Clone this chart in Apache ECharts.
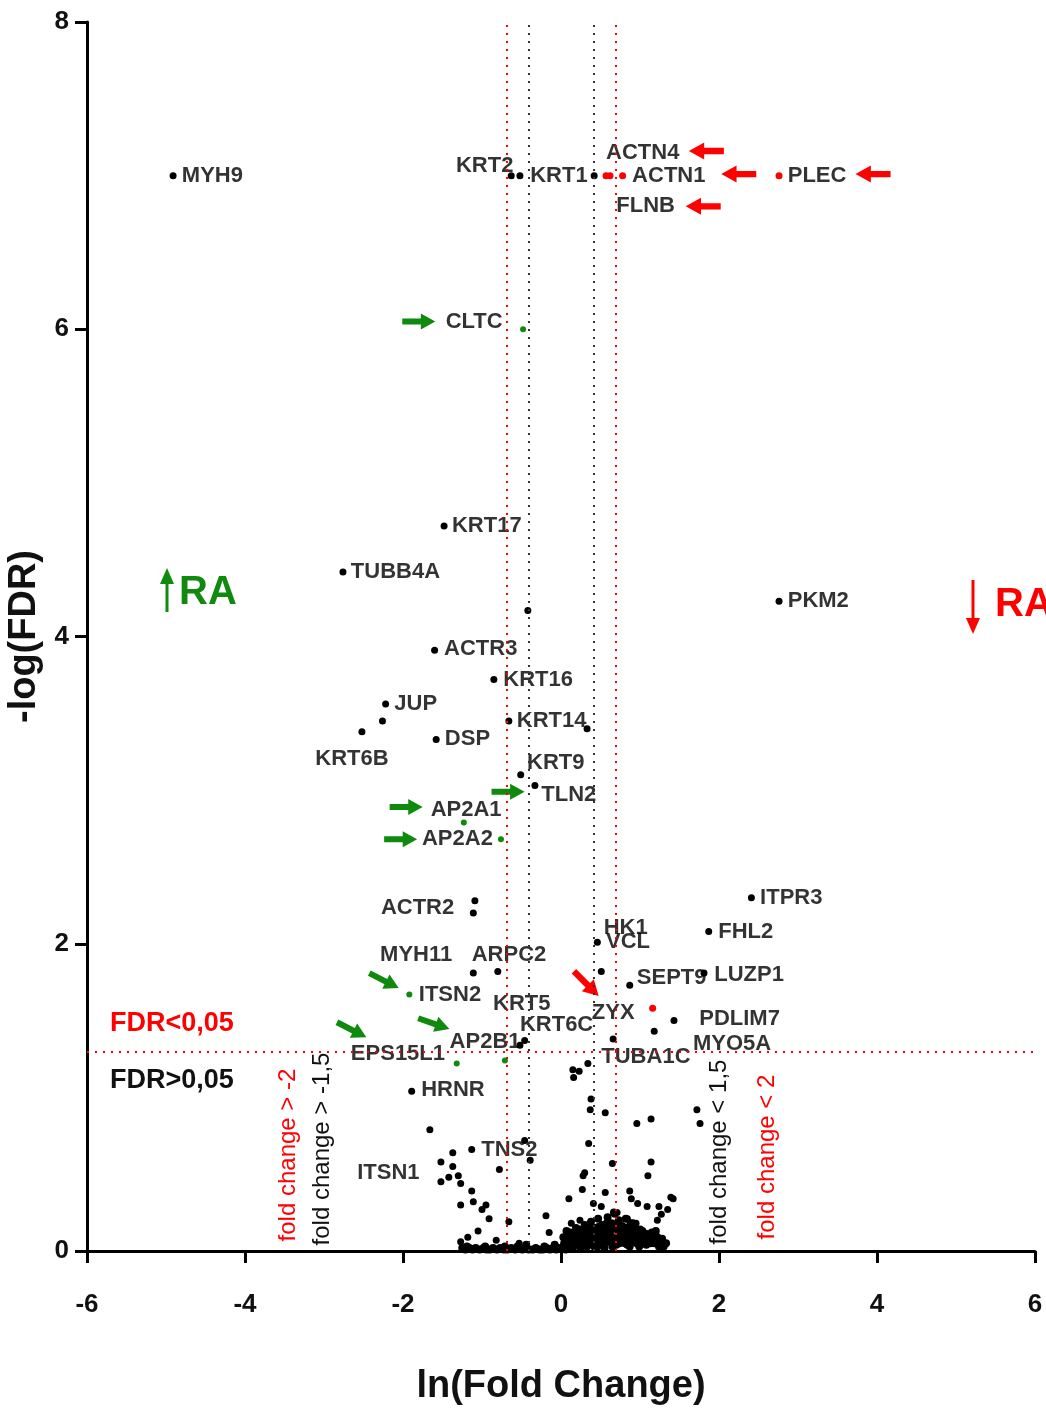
<!DOCTYPE html>
<html>
<head>
<meta charset="utf-8">
<script src="https://cdn.jsdelivr.net/npm/echarts@6/dist/echarts.min.js"></script>
<style>
  html, body { margin: 0; padding: 0; background: #fff; }
  #chart { width: 1046px; height: 1408px; }
</style>
</head>
<body>
<div id="chart"></div>
<script>
// axis ticks
const xTicks = [-6, -4, -2, 0, 2, 4, 6];
const yTicks = [0, 2, 4, 6, 8];

// thresholds: ln(1.5), ln(2), -log10(0.05)
const blackCutoffs = [-0.405, 0.405];
const redCutoffs = [-0.693, 0.693];
const fdrCutoff = 1.301;

// proteins, not highlighted
const blackPoints = [
  [-4.91, 7.00], [-0.63, 7.00], [-0.52, 7.00], [0.42, 7.00],
  [-1.48, 4.72], [-2.76, 4.42], [-0.42, 4.17], [-1.60, 3.91], [-0.85, 3.72],
  [-2.22, 3.56], [-2.26, 3.45], [-2.52, 3.38], [-1.58, 3.33], [-0.66, 3.45],
  [0.33, 3.40], [-0.51, 3.10], [-0.33, 3.03], [2.76, 4.23],
  [-1.09, 2.28], [-1.11, 2.20], [-1.11, 1.81], [-0.80, 1.82], [-0.46, 1.37], [-0.52, 1.34],
  [0.46, 2.01], [0.51, 1.82], [0.87, 1.73], [1.43, 1.50], [1.18, 1.43], [0.66, 1.38],
  [2.41, 2.30], [1.87, 2.08], [1.81, 1.81],
  [-1.89, 1.04], [-1.66, 0.79], [-1.13, 0.66], [-1.37, 0.64], [-1.52, 0.58], [-1.37, 0.55],
  [-1.42, 0.48], [-1.30, 0.49], [-1.52, 0.45], [-1.27, 0.44], [-1.13, 0.39], [-1.11, 0.32],
  [-1.27, 0.30], [-0.95, 0.30], [-1.00, 0.27], [-0.91, 0.21], [-1.05, 0.13], [-1.18, 0.09],
  [-1.27, 0.06], [-0.82, 0.07], [-0.78, 0.53], [-0.66, 0.19], [-0.46, 0.72], [-0.39, 0.59],
  [-0.53, 0.05], [-0.19, 0.23], [-0.15, 0.12], [0.10, 0.34], [0.15, 1.18], [0.23, 1.17],
  [0.16, 1.13], [0.34, 1.22], [0.38, 0.99], [0.37, 0.92], [0.56, 0.90], [0.35, 0.70],
  [0.28, 0.49], [0.30, 0.51], [0.27, 0.40], [0.65, 0.57], [0.56, 0.38], [0.41, 0.31],
  [0.51, 0.29], [0.24, 0.20], [0.68, 0.24], [0.96, 0.83], [1.14, 0.86], [1.72, 0.92],
  [1.76, 0.83], [1.14, 0.58], [1.10, 0.49], [0.87, 0.39], [0.89, 0.34], [0.97, 0.31],
  [1.09, 0.29], [1.24, 0.29], [1.39, 0.35], [1.35, 0.27], [1.27, 0.24], [1.22, 0.20],
  [1.42, 0.34], [0.13, 0.18], [0.71, 0.25], [0.84, 0.21], [0.95, 0.18], [1.04, 0.12], [0.47, 0.16]
];

// dense band near FDR = 1
const baselinePoints = [
  [-1.25, 0.02], [-1.21, 0.01], [-1.16, 0.02], [-1.12, 0.01], [-1.08, 0.02], [-1.03, 0.01],
  [-0.98, 0.02], [-0.94, 0.01], [-0.90, 0.01], [-0.86, 0.02], [-0.81, 0.01], [-0.77, 0.02],
  [-0.72, 0.01], [-0.68, 0.01], [-0.63, 0.02], [-0.58, 0.01], [-0.55, 0.03], [-0.49, 0.01],
  [-0.45, 0.02], [-0.41, 0.01], [-0.36, 0.01], [-0.32, 0.02], [-0.27, 0.01], [-0.23, 0.01],
  [-0.18, 0.02], [-0.14, 0.01], [-0.10, 0.02], [-0.06, 0.01], [-0.03, 0.02],
  [-1.19, 0.03], [-0.96, 0.03], [-0.71, 0.03], [-0.44, 0.04], [-0.21, 0.03], [-0.08, 0.04],
  [0.01, 0.02], [0.04, 0.05], [0.06, 0.01], [0.08, 0.08], [0.10, 0.03], [0.12, 0.12],
  [0.13, 0.06], [0.15, 0.02], [0.17, 0.09], [0.19, 0.15], [0.20, 0.04], [0.22, 0.11],
  [0.24, 0.07], [0.25, 0.02], [0.27, 0.13], [0.29, 0.05], [0.30, 0.17], [0.32, 0.09],
  [0.33, 0.03], [0.35, 0.12], [0.37, 0.06], [0.38, 0.19], [0.40, 0.10], [0.42, 0.03],
  [0.43, 0.15], [0.45, 0.07], [0.47, 0.21], [0.48, 0.12], [0.50, 0.04], [0.52, 0.17],
  [0.54, 0.09], [0.55, 0.02], [0.57, 0.14], [0.59, 0.22], [0.60, 0.06], [0.62, 0.11],
  [0.64, 0.18], [0.65, 0.03], [0.67, 0.25], [0.69, 0.08], [0.71, 0.14], [0.73, 0.20],
  [0.74, 0.05], [0.76, 0.11], [0.78, 0.16], [0.80, 0.09], [0.82, 0.21], [0.84, 0.04],
  [0.86, 0.13], [0.88, 0.18], [0.90, 0.07], [0.92, 0.11], [0.94, 0.15], [0.96, 0.05],
  [0.98, 0.09], [1.00, 0.14], [1.02, 0.06], [1.05, 0.10], [1.08, 0.04], [1.11, 0.08],
  [1.15, 0.12], [1.18, 0.05], [1.22, 0.09], [1.26, 0.06], [1.30, 0.03],
  [0.03, 0.09], [0.07, 0.13], [0.11, 0.07], [0.16, 0.04], [0.18, 0.12], [0.21, 0.08],
  [0.23, 0.14], [0.26, 0.10], [0.28, 0.07], [0.31, 0.13], [0.34, 0.06], [0.36, 0.16],
  [0.39, 0.05], [0.41, 0.13], [0.44, 0.09], [0.46, 0.03], [0.49, 0.15], [0.51, 0.08],
  [0.53, 0.13], [0.56, 0.06], [0.58, 0.18], [0.61, 0.09], [0.63, 0.14], [0.66, 0.07],
  [0.68, 0.17], [0.70, 0.04], [0.72, 0.10], [0.75, 0.17], [0.77, 0.07], [0.79, 0.12],
  [0.81, 0.05], [0.83, 0.15], [0.85, 0.09], [0.87, 0.03], [0.89, 0.14], [0.91, 0.18],
  [0.93, 0.06], [0.97, 0.12], [0.99, 0.03], [1.03, 0.13], [1.06, 0.07], [1.09, 0.11],
  [1.13, 0.05], [1.17, 0.09], [1.20, 0.13], [1.24, 0.03], [1.28, 0.08], [1.33, 0.05]
];

// highlighted proteins
const greenPoints = [[-0.48, 6.00], [-1.23, 2.79], [-0.76, 2.68], [-1.92, 1.67], [-1.32, 1.22], [-0.71, 1.24]];
const redPoints = [[0.57, 7.00], [0.62, 7.00], [0.78, 7.00], [2.76, 7.00], [1.16, 1.58]];

// gene names, anchored at the left edge of the text
const geneNames = ['MYH9', 'KRT2', 'KRT1', 'ACTN4', 'ACTN1', 'FLNB', 'PLEC', 'CLTC', 'KRT17', 'TUBB4A',
  'ACTR3', 'KRT16', 'JUP', 'KRT6B', 'DSP', 'KRT14', 'KRT9', 'TLN2', 'AP2A1', 'AP2A2', 'PKM2',
  'ACTR2', 'MYH11', 'ARPC2', 'ITSN2', 'KRT5', 'KRT6C', 'AP2B1', 'EPS15L1', 'HRNR', 'TNS2', 'ITSN1',
  'HK1', 'VCL', 'SEPT9', 'LUZP1', 'ZYX', 'PDLIM7', 'MYO5A', 'TUBA1C', 'ITPR3', 'FHL2'];
const geneAnchors = [[-4.80, 7.00], [-1.33, 7.06], [-0.39, 7.00], [0.57, 7.15], [0.90, 7.00], [0.70, 6.80],
  [2.87, 7.00], [-1.46, 6.05], [-1.38, 4.72], [-2.66, 4.42], [-1.48, 3.92], [-0.73, 3.72], [-2.11, 3.56],
  [-3.11, 3.20], [-1.47, 3.33], [-0.56, 3.45], [-0.43, 3.18], [-0.25, 2.97], [-1.65, 2.87], [-1.76, 2.68],
  [2.87, 4.23], [-2.28, 2.23], [-2.29, 1.93], [-1.13, 1.93], [-1.80, 1.67], [-0.86, 1.61], [-0.52, 1.47],
  [-1.41, 1.36], [-2.66, 1.28], [-1.77, 1.05], [-1.01, 0.66], [-2.58, 0.51], [0.54, 2.10], [0.57, 2.01],
  [0.96, 1.78], [1.94, 1.80], [0.39, 1.55], [1.75, 1.51], [1.67, 1.35], [0.51, 1.26], [2.52, 2.30],
  [1.99, 2.08]];

// pointer arrows: [x, y, rotation in degrees]
const greenArrows = [[-1.80, 6.05, 0], [-1.96, 2.89, 0], [-2.03, 2.68, 0], [-0.67, 2.99, 0],
  [-2.24, 1.76, -27], [-2.65, 1.44, -27], [-1.61, 1.48, -19]];
const redArrows = [[1.84, 7.16, 0], [2.25, 7.01, 0], [1.80, 6.80, 0], [3.95, 7.01, 0], [0.32, 1.74, 135]];

const FONT = '"Liberation Sans", Arial, sans-serif';
const GREEN = '#0f8a0f';
const RED = '#ff0000';
const arrowPath = 'path://M0,5 L18,5 L18,0 L32,8 L18,16 L18,11 L0,11 Z';
const arrowLeftPath = 'path://M32,5 L14,5 L14,0 L0,8 L14,16 L14,11 L32,11 Z';

const chart = echarts.init(document.getElementById('chart'));

function dotted(color) {
  return { color: color, width: 2, type: [2, 6] };
}

const option = {
  animation: false,
  backgroundColor: '#fff',
  grid: { left: 87, right: 11, top: 22, bottom: 157, containLabel: false, outerBoundsMode: 'none' },
  xAxis: {
    type: 'value', min: -6, max: 6, interval: 2,
    name: 'ln(Fold Change)', nameLocation: 'middle', nameGap: 117,
    nameTextStyle: { fontFamily: FONT, fontWeight: 'bold', fontSize: 38, color: '#111' },
    axisLine: { onZero: false, lineStyle: { color: '#000', width: 3 } },
    axisTick: { length: 12, lineStyle: { width: 3, color: '#000' } },
    axisLabel: {
      margin: 41, fontFamily: FONT, fontWeight: 'bold', fontSize: 26, color: '#111',
      formatter: v => xTicks.includes(v) ? String(v) : ''
    },
    splitLine: { show: false }
  },
  yAxis: {
    type: 'value', min: 0, max: 8, interval: 2,
    name: '-log(FDR)', nameLocation: 'middle', nameGap: 37,
    nameTextStyle: { fontFamily: FONT, fontWeight: 'bold', fontSize: 38, color: '#111' },
    axisLine: { onZero: false, lineStyle: { color: '#000', width: 3 } },
    axisTick: { length: 12, lineStyle: { width: 3, color: '#000' } },
    axisLabel: {
      margin: 18, fontFamily: FONT, fontWeight: 'bold', fontSize: 26, color: '#111',
      formatter: v => yTicks.includes(v) ? String(v) : ''
    },
    splitLine: { show: false }
  },
  series: [
    {
      type: 'scatter', name: 'cutoffs', data: [], silent: true,
      markLine: {
        silent: true, symbol: 'none', label: { show: false }, animation: false,
        data: [
          ...blackCutoffs.map(v => ({ xAxis: v, lineStyle: dotted('#333') })),
          ...redCutoffs.map(v => ({ xAxis: v, lineStyle: dotted(RED) })),
          { yAxis: fdrCutoff, lineStyle: dotted(RED) }
        ]
      }
    },
    {
      type: 'scatter', name: 'baseline', data: baselinePoints, symbolSize: 8, silent: true,
      itemStyle: { color: '#000', opacity: 1 }
    },
    {
      type: 'scatter', name: 'proteins', data: blackPoints, symbolSize: 7, silent: true,
      itemStyle: { color: '#000', opacity: 1 }
    },
    {
      type: 'scatter', name: 'green', data: greenPoints, symbolSize: 6, silent: true,
      itemStyle: { color: GREEN, opacity: 1 }
    },
    {
      type: 'scatter', name: 'red', data: redPoints, symbolSize: 7, silent: true,
      itemStyle: { color: RED, opacity: 1 }
    },
    {
      type: 'scatter', name: 'greenArrows', silent: true,
      data: greenArrows.map(a => ({ value: [a[0], a[1]], symbolRotate: a[2] })),
      symbol: arrowPath, symbolSize: [33, 16], itemStyle: { color: GREEN, opacity: 1 }
    },
    {
      type: 'scatter', name: 'redArrows', silent: true,
      data: redArrows.map(a => ({ value: [a[0], a[1]], symbolRotate: a[2] })),
      symbol: arrowLeftPath, symbolSize: [35, 17], itemStyle: { color: RED, opacity: 1 }
    },
    {
      type: 'scatter', name: 'names', silent: true, symbolSize: 0,
      data: geneNames.map((n, i) => ({ name: n, value: geneAnchors[i] })),
      label: {
        show: true, position: 'right', distance: 0, formatter: '{b}',
        fontFamily: FONT, fontSize: 22, fontWeight: 'bold', color: '#000'
      },
      labelLayout: { hideOverlap: false }
    }
  ],
  graphic: [
    // up RA
    { type: 'line', shape: { x1: 167, y1: 612, x2: 167, y2: 582 }, style: { stroke: GREEN, lineWidth: 3 } },
    { type: 'polygon', shape: { points: [[160, 584], [174, 584], [167, 568]] }, style: { fill: GREEN } },
    { type: 'text', x: 179, y: 593, style: { text: 'RA', fill: GREEN, font: 'bold 40px ' + FONT, textVerticalAlign: 'middle' } },
    // down RA
    { type: 'line', shape: { x1: 973, y1: 580, x2: 973, y2: 620 }, style: { stroke: RED, lineWidth: 3 } },
    { type: 'polygon', shape: { points: [[966, 618], [980, 618], [973, 634]] }, style: { fill: RED } },
    { type: 'text', x: 995, y: 605, style: { text: 'RA', fill: RED, font: 'bold 40px ' + FONT, textVerticalAlign: 'middle' } },
    // FDR side labels
    { type: 'text', x: 110, y: 1024, style: { text: 'FDR<0,05', fill: RED, font: 'bold 27px ' + FONT, textVerticalAlign: 'middle' } },
    { type: 'text', x: 110, y: 1081, style: { text: 'FDR>0,05', fill: '#111', font: 'bold 27px ' + FONT, textVerticalAlign: 'middle' } },
    // fold change labels
    { type: 'text', x: 288, y: 1155, rotation: Math.PI / 2, style: { text: 'fold change > -2', fill: RED, font: '24px ' + FONT, textAlign: 'center', textVerticalAlign: 'middle' } },
    { type: 'text', x: 322, y: 1149, rotation: Math.PI / 2, style: { text: 'fold change > -1,5', fill: '#111', font: '24px ' + FONT, textAlign: 'center', textVerticalAlign: 'middle' } },
    { type: 'text', x: 719, y: 1152, rotation: Math.PI / 2, style: { text: 'fold change < 1,5', fill: '#111', font: '24px ' + FONT, textAlign: 'center', textVerticalAlign: 'middle' } },
    { type: 'text', x: 767, y: 1157, rotation: Math.PI / 2, style: { text: 'fold change < 2', fill: RED, font: '24px ' + FONT, textAlign: 'center', textVerticalAlign: 'middle' } }
  ]
};

chart.setOption(option);
</script>
</body>
</html>
